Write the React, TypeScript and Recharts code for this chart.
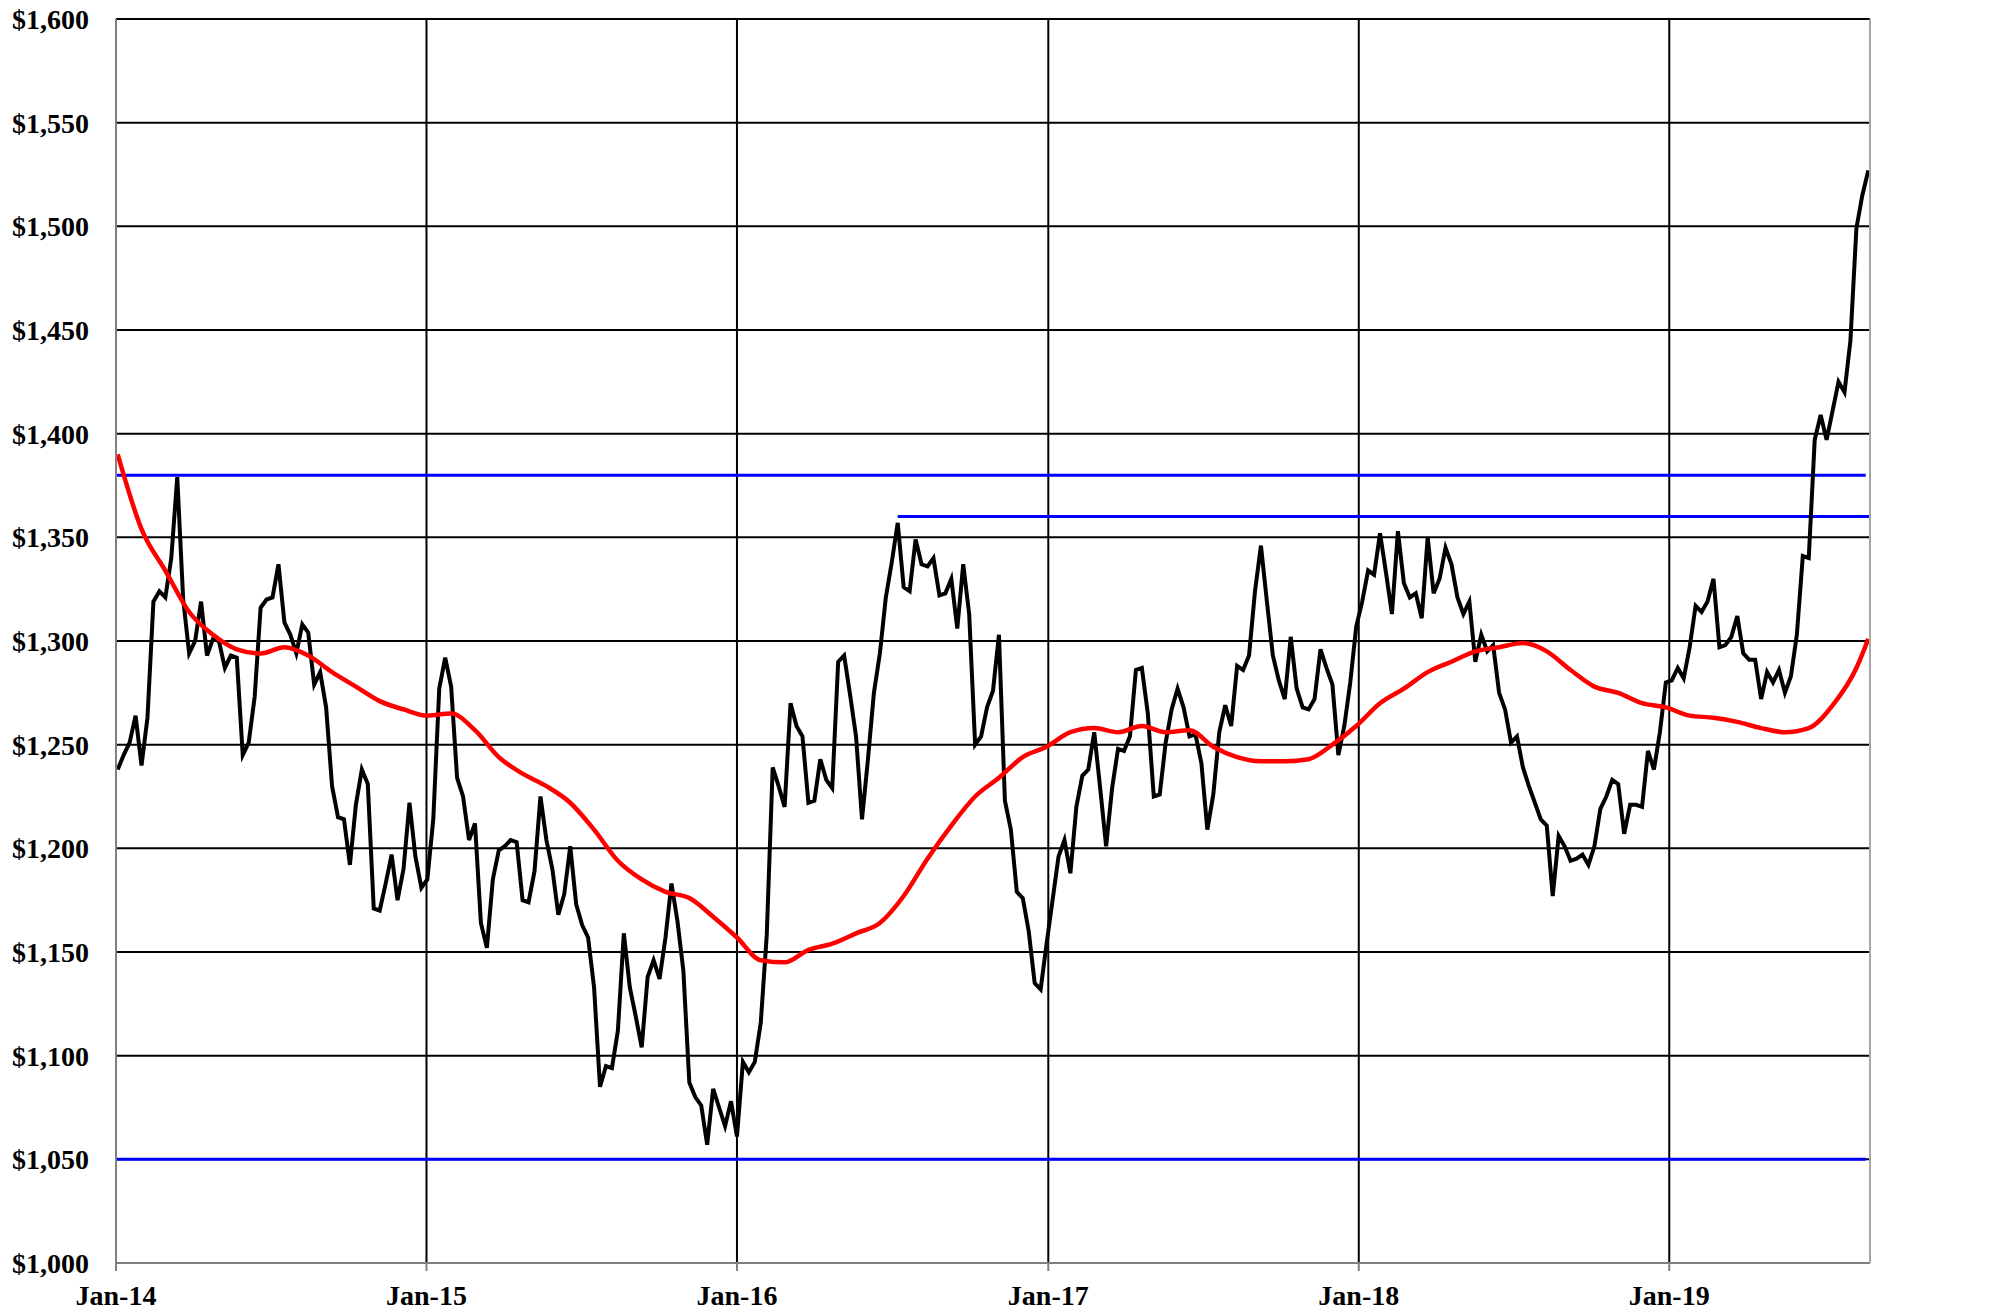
import React from "react";
import {
  CartesianGrid,
  Line,
  LineChart,
  ReferenceLine,
  XAxis,
  YAxis,
} from "recharts";

// Weekly closes, first week of Jan 2014 through late Aug 2019.
const GOLD_WEEKLY = [
  1238, 1245, 1251, 1264, 1240, 1263, 1319, 1324, 1321, 1340,
  1379, 1320, 1294, 1300, 1319, 1293, 1301, 1300, 1287, 1293,
  1292, 1245, 1251, 1273, 1316, 1320, 1321, 1337, 1309, 1303,
  1294, 1308, 1304, 1279, 1285, 1268, 1230, 1215, 1214, 1192,
  1221, 1238, 1231, 1171, 1170, 1183, 1197, 1175, 1190, 1222,
  1196, 1181, 1185, 1214, 1277, 1292, 1278, 1234, 1225, 1204,
  1212, 1164, 1152, 1185, 1199, 1201, 1204, 1203, 1175, 1174,
  1189, 1225, 1204, 1190, 1168, 1178, 1201, 1173, 1163, 1157,
  1133, 1085, 1095, 1094, 1112, 1159, 1133, 1119, 1104, 1138,
  1146, 1137, 1157, 1183, 1165, 1141, 1087, 1080, 1076, 1057,
  1084, 1075, 1066, 1078, 1061, 1097, 1092, 1097, 1116, 1158,
  1239, 1230, 1220, 1270, 1259, 1254, 1222, 1223, 1243, 1233,
  1229, 1290, 1293, 1274, 1254, 1214, 1243, 1275, 1294, 1321,
  1338, 1357, 1326, 1324, 1349, 1337, 1336, 1340, 1322, 1323,
  1330, 1306, 1337, 1313, 1250, 1254, 1268, 1276, 1303, 1223,
  1209, 1179, 1176, 1160, 1135, 1132, 1154, 1175, 1196, 1204,
  1188, 1220, 1235, 1238, 1256, 1229, 1201, 1229, 1248, 1247,
  1254, 1286, 1287, 1265, 1225, 1226, 1251, 1267, 1277, 1268,
  1254, 1255, 1241, 1209, 1226, 1256, 1269, 1259, 1288, 1286,
  1293, 1324, 1346, 1319, 1293, 1281, 1272, 1302, 1277, 1268,
  1267, 1272, 1296, 1287, 1279, 1245, 1259, 1280, 1307, 1319,
  1334, 1332, 1352, 1333, 1313, 1353, 1328, 1321, 1323, 1311,
  1350, 1323, 1330, 1345, 1337, 1321, 1313, 1319, 1290, 1303,
  1295, 1298, 1275, 1267, 1251, 1254, 1239, 1230, 1222, 1214,
  1211, 1177, 1206, 1201, 1194, 1195, 1197, 1192, 1201, 1219,
  1225, 1233, 1231, 1207, 1221, 1221, 1220, 1247, 1238, 1256,
  1280, 1281, 1287, 1282, 1297, 1317, 1314, 1319, 1330, 1297,
  1298, 1302, 1312, 1294, 1291, 1291, 1272, 1285, 1280, 1286,
  1275, 1283, 1303, 1341, 1340, 1397, 1409, 1397, 1411, 1425,
  1420, 1445, 1499, 1515, 1527,
];

// Moving average: [week index, value].
const MOVING_AVG: [number, number][] = [
  [0, 1390], [4, 1354], [8, 1334], [12, 1314], [16, 1303], [20, 1296],
  [24, 1294], [28, 1297], [32, 1293], [36, 1285], [40, 1278], [44, 1271],
  [48, 1267], [52, 1264], [56, 1265], [60, 1257], [64, 1244], [68, 1236],
  [72, 1230], [76, 1222], [80, 1209], [84, 1194], [88, 1185], [92, 1179],
  [96, 1176], [100, 1167], [104, 1157], [108, 1146], [112, 1145], [116, 1151],
  [120, 1154], [124, 1159], [128, 1164], [132, 1177], [136, 1195], [140, 1211],
  [144, 1225], [148, 1234], [152, 1244], [156, 1249], [160, 1256], [164, 1258],
  [168, 1256], [172, 1259], [176, 1256], [180, 1257], [184, 1249], [188, 1244],
  [192, 1242], [196, 1242], [200, 1243], [204, 1250], [208, 1259], [212, 1270],
  [216, 1277], [220, 1285], [224, 1290], [228, 1295], [232, 1297], [236, 1299],
  [240, 1295], [244, 1286], [248, 1278], [252, 1275], [256, 1270], [260, 1268],
  [264, 1264], [268, 1263], [272, 1261], [276, 1258], [280, 1256], [284, 1258],
  [288, 1269], [292, 1287], [294, 1301],
];

// Horizontal support / resistance levels, in days since 1 Jan 2014.
const LEVELS = [
  { value: 1380, from: 0, to: 2057 },
  { value: 1360, from: 919, to: 2062 },
  { value: 1050, from: 0, to: 2057 },
];

const YEAR_TICKS = [0, 365, 730, 1096, 1461, 1826];
const YEAR_LABELS = ["Jan-14", "Jan-15", "Jan-16", "Jan-17", "Jan-18", "Jan-19"];
const LEFT_TICKS = [1000, 1050, 1100, 1150, 1200, 1250, 1300, 1350, 1400, 1450, 1500, 1550, 1600];
const RIGHT_TICKS = [
  1000, 1025, 1050, 1075, 1100, 1125, 1150, 1175, 1200, 1225, 1250, 1275, 1300,
  1325, 1350, 1375, 1400, 1425, 1450, 1475, 1500, 1525, 1550, 1575, 1600,
];

const FIRST_DAY = 2;
const DAYS_PER_WEEK = 7;
const X_MAX = 2062;

const avgByWeek = new Map(MOVING_AVG);
const data = GOLD_WEEKLY.map((price, i) => ({
  day: FIRST_DAY + i * DAYS_PER_WEEK,
  price,
  avg: avgByWeek.get(i) ?? null,
}));

const money = (v: number) => `$${v.toLocaleString("en-US")}`;
const tickStyle = {
  fill: "#000000",
  fontSize: 28,
  fontWeight: 700,
  fontFamily: "'Liberation Serif', 'Times New Roman', serif",
};

export default function App() {
  return (
    <div
      style={{
        position: "absolute",
        left: 0,
        top: 0,
        width: 2003,
        height: 1315,
        background: "#ffffff",
      }}
    >
      <LineChart
        width={2003}
        height={1315}
        data={data}
        margin={{ top: 19, right: 0, bottom: 0, left: 0 }}
      >
        <CartesianGrid yAxisId="left" stroke="#000000" strokeWidth={2} />
        <XAxis
          dataKey="day"
          type="number"
          domain={[0, X_MAX]}
          ticks={YEAR_TICKS}
          tickFormatter={(v: number) => YEAR_LABELS[YEAR_TICKS.indexOf(v)] ?? ""}
          height={52}
          axisLine={{ stroke: "#808080", strokeWidth: 2 }}
          tickLine={{ stroke: "#808080", strokeWidth: 2 }}
          tickSize={8}
          tickMargin={14}
          tick={tickStyle}
          interval={0}
        />
        <YAxis
          yAxisId="left"
          domain={[1000, 1600]}
          ticks={LEFT_TICKS}
          tickFormatter={money}
          width={116}
          axisLine={{ stroke: "#808080", strokeWidth: 2 }}
          tickLine={false}
          tickSize={8}
          tickMargin={19}
          tick={tickStyle}
          interval={0}
        />
        <YAxis
          yAxisId="right"
          orientation="right"
          domain={[1000, 1600]}
          ticks={RIGHT_TICKS}
          tickFormatter={money}
          width={133}
          axisLine={{ stroke: "#a6a6a6", strokeWidth: 2 }}
          tickLine={{ stroke: "#a6a6a6", strokeWidth: 2 }}
          tickSize={9}
          tickMargin={17}
          tick={tickStyle}
          interval={0}
        />
        {LEVELS.map((lvl) => (
          <ReferenceLine
            key={lvl.value}
            yAxisId="left"
            segment={[
              { x: lvl.from, y: lvl.value },
              { x: lvl.to, y: lvl.value },
            ]}
            stroke="#0000ff"
            strokeWidth={3}
          />
        ))}
        <Line
          yAxisId="left"
          dataKey="price"
          type="linear"
          stroke="#000000"
          strokeWidth={4}
          dot={false}
          activeDot={false}
          isAnimationActive={false}
        />
        <Line
          yAxisId="left"
          dataKey="avg"
          type="monotone"
          connectNulls
          stroke="#ff0000"
          strokeWidth={4.5}
          dot={false}
          activeDot={false}
          isAnimationActive={false}
        />
      </LineChart>
    </div>
  );
}
